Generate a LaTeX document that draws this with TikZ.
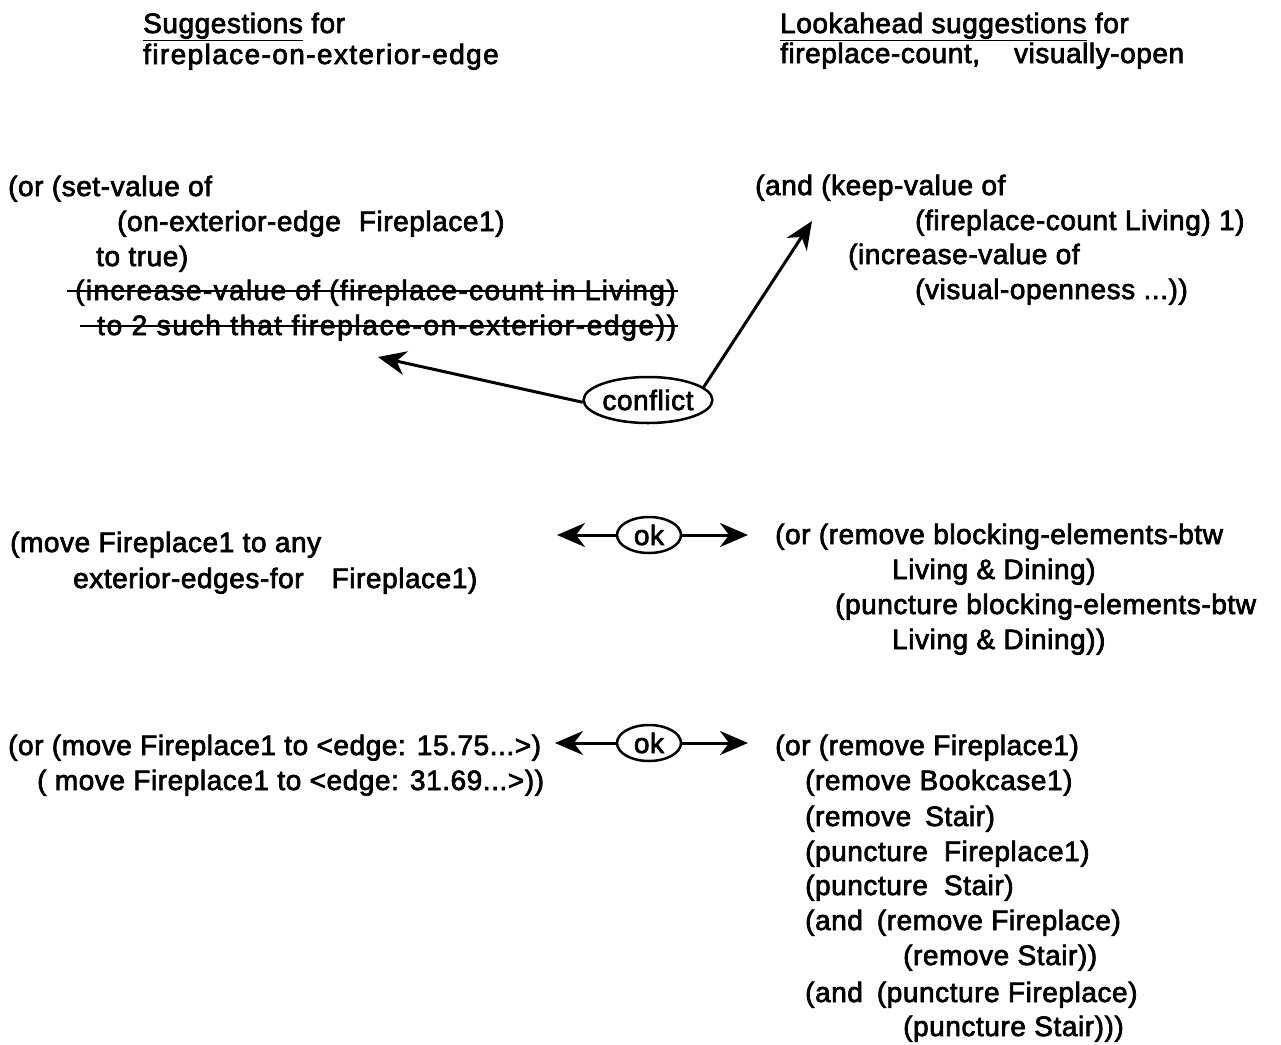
\documentclass[tikz,border=0pt]{standalone}
\usepackage{fontspec}
\setmainfont{Liberation Sans}[LetterSpace=2,AutoFakeBold=2.5]
\usetikzlibrary{arrows.meta,shapes.geometric}

\begin{document}
\begin{tikzpicture}[x=1pt,y=-1pt,
    >={Stealth[length=28pt,width=24pt,inset=9pt]},
    txt/.style={anchor=base west,inner sep=0pt,font=\fontsize{28}{34}\selectfont\bfseries},
    wide/.style={txt,font=\fontsize{28}{34}\selectfont\bfseries\addfontfeature{LetterSpace=#1}},
    verdict/.style={ellipse,draw,line width=2.5pt,inner sep=0pt,font=\fontsize{28}{34}\selectfont\bfseries},
    link/.style={->,line width=3pt},
    strike/.style={line width=2.5pt}]
            \useasboundingbox (0,0) rectangle (1281,1044);
            % column heads
            \node[txt] (sugA) at (143,33) {\underline{Suggestions} for};
            \node[wide=5] (sugB) at (143,64) {fireplace-on-exterior-edge};
            \node[txt] (lookA) at (780,33) {\underline{Lookahead suggestions} for};
            \node[txt] (lookB) at (780,63) {fireplace-count,\hspace{34pt}visually-open};
            % first pair
            \node[txt] (setA) at (8,196) {(or (set-value of};
            \node[txt] (setB) at (117,231) {(on-exterior-edge\hspace{18pt}Fireplace1)};
            \node[txt] (setC) at (96,266) {to true)};
            \node[wide=5] (incA) at (75,300) {(increase-value of (fireplace-count in Living)};
            \node[wide=6] (incB) at (97,335) {to 2 such that fireplace-on-exterior-edge))};
            \draw[strike] ([shift={(-8pt,9pt)}]incA.base west) -- ([shift={(2pt,9pt)}]incA.base east);
            \draw[strike] ([shift={(-17pt,9pt)}]incB.base west) -- ([shift={(2pt,9pt)}]incB.base east);
            \node[txt] (keepA) at (755,195) {(and (keep-value of};
            \node[txt] (keepB) at (915,230) {(fireplace-count Living) 1)};
            \node[txt] (keepC) at (848,264) {(increase-value of};
            \node[txt] (keepD) at (915,299) {(visual-openness ...))};
            \node[verdict,minimum width=128pt,minimum height=46pt] (conflict) at (648,400) {conflict};
            \coordinate (hitL) at (378,357);
            \coordinate (hitR) at (812,221);
            \draw[link] (conflict.182) -- (hitL);
            \draw[link] (conflict.13) -- (hitR);
            % second pair
            \node[txt] (moveA) at (10,552) {(move Fireplace1 to any};
            \node[txt] (moveB) at (73,588) {exterior-edges-for\hspace{28pt}Fireplace1)};
            \node[txt] (blockA) at (775,544) {(or (remove blocking-elements-btw};
            \node[txt] (blockB) at (892,579) {Living \& Dining)};
            \node[txt] (blockC) at (835,614) {(puncture blocking-elements-btw};
            \node[txt] (blockD) at (892,649) {Living \& Dining))};
            \node[verdict,minimum width=64pt,minimum height=36pt] (okA) at (649,535) {ok};
            \coordinate (okAL) at (557,535);
            \coordinate (okAR) at (748,535);
            \draw[link] (okA.west) -- (okAL);
            \draw[link] (okA.east) -- (okAR);
            % third pair
            \node[txt] (edgeA) at (8,755) {(or (move Fireplace1 to <edge: 15.75...>)};
            \node[txt] (edgeB) at (37,790) {( move Fireplace1 to <edge: 31.69...>))};
            \node[txt] (remA) at (775,755) {(or (remove Fireplace1)};
            \node[txt] (remB) at (805,790) {(remove Bookcase1)};
            \node[txt] (remC) at (805,826) {(remove\hspace{14pt}Stair)};
            \node[txt] (remD) at (805,861) {(puncture\hspace{16pt}Fireplace1)};
            \node[txt] (remE) at (805,895) {(puncture\hspace{16pt}Stair)};
            \node[txt] (remF) at (805,930) {(and\hspace{14pt}(remove Fireplace)};
            \node[txt] (remG) at (903,965) {(remove Stair))};
            \node[txt] (remH) at (805,1002) {(and\hspace{14pt}(puncture Fireplace)};
            \node[txt] (remI) at (903,1036) {(puncture Stair)))};
            \node[verdict,minimum width=64pt,minimum height=36pt] (okB) at (649,743) {ok};
            \coordinate (okBL) at (555,743);
            \coordinate (okBR) at (748,743);
            \draw[link] (okB.west) -- (okBL);
            \draw[link] (okB.east) -- (okBR);
        \end{tikzpicture}
\end{document}
